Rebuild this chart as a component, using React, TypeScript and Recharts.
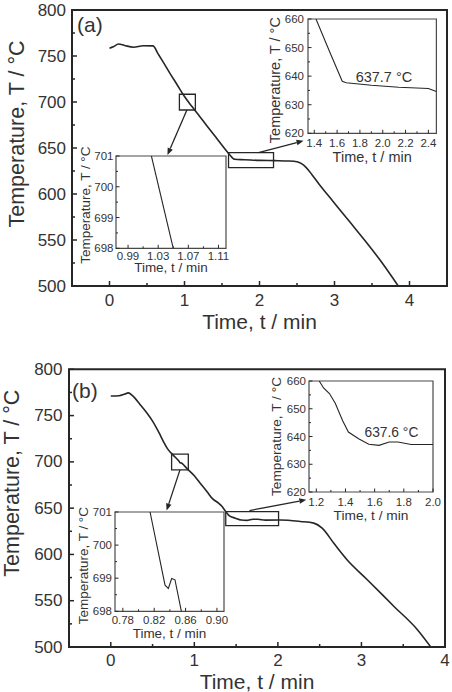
import React from 'react';
import {
  LineChart,
  Line,
  XAxis,
  YAxis,
  ReferenceArea,
  ReferenceLine,
  ReferenceDot
} from 'recharts';

const FONT = '"Liberation Sans", Arial, Helvetica, sans-serif';
const INK = '#262626';
const TEXT = '#333';

// ---- panel (a) ----
const timeA = [0, 0.05, 0.12, 0.2, 0.32, 0.45, 0.58, 0.65, 0.7, 0.8, 0.9, 1.0, 1.1, 1.2, 1.3, 1.4, 1.5, 1.6, 1.67, 1.8, 2.0, 2.2, 2.4, 2.5, 2.56, 2.62, 2.7, 2.8, 2.9, 3.0, 3.2, 3.4, 3.6, 3.85];
const tempA = [758.5, 760, 763, 761.5, 759.5, 761.2, 761, 752, 745.5, 732, 719, 706, 695, 684.5, 674, 663.5, 653, 643, 637.7, 637.3, 636.6, 636.3, 635.9, 635, 633, 629, 621, 610, 600, 590, 570, 550, 529, 500];

const plateauA = 637.7;
const zoomTimeA1 = [1.021, 1.05];
const zoomTempA1 = [701, 698];
const zoomTimeA2 = [1.415, 1.53, 1.645, 1.68, 1.9, 2.14, 2.4, 2.47];
const zoomTempA2 = [660, 649, 638.2, plateauA, 636.8, 636.1, 635.7, 634.6];

// ---- panel (b) ----
const timeB = [0, 0.1, 0.16, 0.21, 0.26, 0.35, 0.43, 0.5, 0.58, 0.63, 0.68, 0.75, 0.815, 0.834, 0.842, 0.856, 0.91, 1.0, 1.07, 1.15, 1.22, 1.29, 1.33, 1.38, 1.42, 1.49, 1.56, 1.63, 1.7, 1.76, 1.85, 2.03, 2.27, 2.43, 2.53, 2.67, 2.83, 3.07, 3.39, 3.67, 3.83];
const tempB = [771.2, 771.5, 773, 774.5, 771.5, 762, 753, 744, 731, 722, 714, 707, 701, 698.8, 699, 698, 693, 685, 677, 668, 660, 655.5, 652, 645.8, 641.6, 639.2, 637.2, 636.8, 638, 638, 637.1, 637.2, 635.6, 633.8, 628.4, 612, 594, 572.7, 543.8, 518.7, 500];

const plateauB = 637.6;
const zoomTimeB1 = [0.8147, 0.8338, 0.838, 0.8423, 0.8465, 0.8555];
const zoomTempB1 = [701, 698.79, 698.69, 698.99, 698.95, 697.9];
const zoomTimeB2 = [1.22, 1.25, 1.29, 1.33, 1.38, 1.42, 1.49, 1.56, 1.63, 1.7, 1.76, 1.85, 2.0];
const zoomTempB2 = [660, 657.5, 655.5, 652, 645.8, 641.6, 639.2, 637.2, 636.8, 638, 638, 637.1, 637.1];

// ---- ticks ----
const mainTimeTicks = [0, 0.5, 1, 1.5, 2, 2.5, 3, 3.5, 4];
const mainTimeMajor = [0, 1, 2, 3, 4];
const mainTempTicks = [500, 525, 550, 575, 600, 625, 650, 675, 700, 725, 750, 775, 800];
const mainTempMajor = [500, 550, 600, 650, 700, 750, 800];

const fineTempTicks = [698, 698.5, 699, 699.5, 700, 700.5, 701];
const fineTempMajor = [698, 699, 700, 701];
const plateauTempTicks = [620, 625, 630, 635, 640, 645, 650, 655, 660];
const plateauTempMajor = [620, 630, 640, 650, 660];

const fineTimeTicksA = [0.99, 1.01, 1.03, 1.05, 1.07, 1.09, 1.11];
const fineTimeMajorA = [0.99, 1.03, 1.07, 1.11];
const fineTimeTicksB = [0.78, 0.8, 0.82, 0.84, 0.86, 0.88, 0.9];
const fineTimeMajorB = [0.78, 0.82, 0.86, 0.9];
const plateauTimeTicksA = [1.4, 1.5, 1.6, 1.7, 1.8, 1.9, 2.0, 2.1, 2.2, 2.3, 2.4];
const plateauTimeMajorA = [1.4, 1.6, 1.8, 2.0, 2.2, 2.4];
const plateauTimeTicksB = [1.2, 1.3, 1.4, 1.5, 1.6, 1.7, 1.8, 1.9, 2.0];
const plateauTimeMajorB = [1.2, 1.4, 1.6, 1.8, 2.0];

const zip = (t: number[], v: number[]) => t.map((x, i) => ({ t: x, T: v[i] }));

const isIn = (list: number[], v: number) => list.some((m) => Math.abs(m - v) < 1e-6);

interface TickStyle {
  major: number[];
  len: number;
  minorLen: number;
  gap: number;
  size: number;
  digits: number;
  width: number;
}

// ticks point into the plot; minor ticks carry no label
function bottomTick(s: TickStyle) {
  return (p: any) => {
    const v = p.payload.value;
    const major = isIn(s.major, v);
    return (
      <g>
        <line x1={p.x} x2={p.x} y1={p.y} y2={p.y - (major ? s.len : s.minorLen)} stroke={INK} strokeWidth={s.width} />
        {major && (
          <text x={p.x} y={p.y + s.gap} textAnchor="middle" dominantBaseline="central" fontSize={s.size} fontFamily={FONT} fill={TEXT}>
            {v.toFixed(s.digits)}
          </text>
        )}
      </g>
    );
  };
}

function leftTick(s: TickStyle) {
  return (p: any) => {
    const v = p.payload.value;
    const major = isIn(s.major, v);
    return (
      <g>
        <line x1={p.x} x2={p.x + (major ? s.len : s.minorLen)} y1={p.y} y2={p.y} stroke={INK} strokeWidth={s.width} />
        {major && (
          <text x={p.x - s.gap} y={p.y} textAnchor="end" dominantBaseline="central" fontSize={s.size} fontFamily={FONT} fill={TEXT}>
            {v.toFixed(s.digits)}
          </text>
        )}
      </g>
    );
  };
}

const xTitle = (text: string, dy: number, size: number) => ({
  content: (p: any) => {
    const vb = p.viewBox;
    return (
      <text x={vb.x + vb.width / 2} y={vb.y + dy} textAnchor="middle" dominantBaseline="central" fontSize={size} fontFamily={FONT} fill={TEXT}>
        {text}
      </text>
    );
  }
});

const yTitle = (text: string, dx: number, dy: number, size: number) => ({
  content: (p: any) => {
    const vb = p.viewBox;
    const cx = vb.x + vb.width - dx;
    const cy = vb.y + vb.height / 2 + dy;
    return (
      <text x={cx} y={cy} transform={`rotate(-90 ${cx} ${cy})`} textAnchor="middle" dominantBaseline="central" fontSize={size} fontFamily={FONT} fill={TEXT}>
        {text}
      </text>
    );
  }
});

// line with a filled head at the second point
const arrowShape = (p: any) => {
  const { x1, y1, x2, y2 } = p;
  const a = Math.atan2(y2 - y1, x2 - x1);
  const L = 7;
  const W = 2.8;
  const bx = x2 - L * Math.cos(a);
  const by = y2 - L * Math.sin(a);
  const pts = `${x2},${y2} ${bx - W * Math.sin(a)},${by + W * Math.cos(a)} ${bx + W * Math.sin(a)},${by - W * Math.cos(a)}`;
  return (
    <g>
      <line x1={x1} y1={y1} x2={bx} y2={by} stroke={INK} strokeWidth={1.3} />
      <polygon points={pts} fill={INK} />
    </g>
  );
};

const mainX = (gap: number): TickStyle => ({ major: mainTimeMajor, len: 5, minorLen: 3, gap, size: 17, digits: 0, width: 1.5 });
const mainY = (gap: number): TickStyle => ({ major: mainTempMajor, len: 5, minorLen: 3, gap, size: 17, digits: 0, width: 1.5 });

interface InsetProps {
  box: [number, number, number, number];
  data: { t: number; T: number }[];
  xDomain: [number, number];
  yDomain: [number, number];
  xTicks: number[];
  xMajor: number[];
  xDigits: number;
  yTicks: number[];
  yMajor: number[];
  xLabelGap: number;
  yLabelGap: number;
  xTitleGap: number;
  yTitleGap: number;
  yTitleShift: number;
  titleSize: number;
  note?: { t: number; T: number; text: string; size: number };
}

function Inset(p: InsetProps) {
  const [l, t, r, b] = p.box;
  const padL = 48;
  const padT = 18;
  const padR = 8;
  const padB = 34;
  return (
    <div style={{ position: 'absolute', left: l - padL, top: t - padT }}>
      <LineChart
        width={r - l + padL + padR}
        height={b - t + padT + padB}
        data={p.data}
        margin={{ top: padT, right: padR, bottom: 0, left: 0 }}
      >
        <XAxis
          type="number"
          dataKey="t"
          domain={p.xDomain}
          ticks={p.xTicks}
          interval={0}
          allowDataOverflow
          axisLine={false}
          tickLine={false}
          tickSize={0}
          tickMargin={0}
          height={padB}
          tick={bottomTick({ major: p.xMajor, len: 3.5, minorLen: 2, gap: p.xLabelGap, size: 11.5, digits: p.xDigits, width: 1 })}
          label={xTitle('Time, t / min', p.xTitleGap, p.titleSize)}
        />
        <YAxis
          type="number"
          domain={p.yDomain}
          ticks={p.yTicks}
          interval={0}
          allowDataOverflow
          axisLine={false}
          tickLine={false}
          tickSize={0}
          tickMargin={0}
          width={padL}
          tick={leftTick({ major: p.yMajor, len: 3.5, minorLen: 2, gap: p.yLabelGap, size: 11.5, digits: 0, width: 1 })}
          label={yTitle('Temperature, T / °C', p.yTitleGap, p.yTitleShift, p.titleSize)}
        />
        <ReferenceArea x1={p.xDomain[0]} x2={p.xDomain[1]} y1={p.yDomain[0]} y2={p.yDomain[1]} fill="none" stroke="#4a4a4a" strokeWidth={1.2} />
        <Line type="linear" dataKey="T" stroke={INK} strokeWidth={1.1} dot={false} isAnimationActive={false} />
        {p.note && (
          <ReferenceDot
            x={p.note.t}
            y={p.note.T}
            r={0}
            fill="none"
            stroke="none"
            label={{
              content: (lp: any) => {
                const vb = lp.viewBox;
                return (
                  <text x={vb.x + vb.width / 2} y={vb.y + vb.height / 2} textAnchor="middle" dominantBaseline="central" fontSize={p.note!.size} fontFamily={FONT} fill={TEXT}>
                    {p.note!.text}
                  </text>
                );
              }
            }}
          />
        )}
      </LineChart>
    </div>
  );
}

const tagStyle = (left: number, top: number): React.CSSProperties => ({
  position: 'absolute',
  left,
  top,
  transform: 'translateY(-50%)',
  fontSize: 21,
  lineHeight: 1,
  color: TEXT,
  fontFamily: FONT
});

export default function App() {
  const seriesA = zip(timeA, tempA);
  const seriesB = zip(timeB, tempB);

  return (
    <div style={{ position: 'absolute', left: 0, top: 0, width: 452, height: 692, background: '#fff', overflow: 'hidden' }}>
      {/* panel (a) */}
      <div style={{ position: 'absolute', left: 0, top: 0 }}>
        <LineChart width={452} height={340} data={seriesA} margin={{ top: 10, right: 5, bottom: 0, left: 0 }}>
          <XAxis
            type="number"
            dataKey="t"
            domain={[-0.5, 4.5]}
            ticks={mainTimeTicks}
            interval={0}
            allowDataOverflow
            axisLine={false}
            tickLine={false}
            tickSize={0}
            tickMargin={0}
            height={54}
            tick={bottomTick(mainX(14.5))}
            label={xTitle('Time, t / min', 35, 21)}
          />
          <YAxis
            type="number"
            domain={[500, 800]}
            ticks={mainTempTicks}
            interval={0}
            allowDataOverflow
            axisLine={false}
            tickLine={false}
            tickSize={0}
            tickMargin={0}
            width={72}
            tick={leftTick(mainY(6))}
            label={yTitle('Temperature, T / °C', 55, -14, 21.5)}
          />
          <ReferenceArea x1={-0.5} x2={4.5} y1={500} y2={800} fill="none" stroke={INK} strokeWidth={2} />
          <ReferenceArea x1={0.932} x2={1.145} y1={691.3} y2={708.4} fill="none" stroke={INK} strokeWidth={1.3} />
          <ReferenceArea x1={1.587} x2={2.187} y1={628.6} y2={644.9} fill="none" stroke={INK} strokeWidth={1.3} />
          <ReferenceLine segment={[{ x: 1.032, y: 691.3 }, { x: 0.773, y: 642.4 }]} shape={arrowShape} />
          <ReferenceLine segment={[{ x: 1.987, y: 644.9 }, { x: 2.587, y: 657.9 }]} shape={arrowShape} />
          <Line type="monotone" dataKey="T" stroke={INK} strokeWidth={1.6} dot={false} isAnimationActive={false} />
        </LineChart>
      </div>
      <div style={tagStyle(77, 24)}>(a)</div>

      <Inset
        box={[115.5, 156, 225.5, 248.3]}
        data={zip(zoomTimeA1, zoomTempA1)}
        xDomain={[0.974, 1.12]}
        yDomain={[698, 701]}
        xTicks={fineTimeTicksA}
        xMajor={fineTimeMajorA}
        xDigits={2}
        yTicks={fineTempTicks}
        yMajor={fineTempMajor}
        xLabelGap={7.5}
        yLabelGap={2.5}
        xTitleGap={19.5}
        yTitleGap={30.5}
        yTitleShift={3}
        titleSize={13.5}
      />
      <Inset
        box={[308.3, 19, 436.7, 133.3]}
        data={zip(zoomTimeA2, zoomTempA2)}
        xDomain={[1.345, 2.47]}
        yDomain={[620, 660]}
        xTicks={plateauTimeTicksA}
        xMajor={plateauTimeMajorA}
        xDigits={1}
        yTicks={plateauTempTicks}
        yMajor={plateauTempMajor}
        xLabelGap={10}
        yLabelGap={4}
        xTitleGap={23.5}
        yTitleGap={33}
        yTitleShift={4}
        titleSize={14.5}
        note={{ t: 2.01, T: 639.8, text: `${plateauA} °C`, size: 14.5 }}
      />

      {/* panel (b) */}
      <div style={{ position: 'absolute', left: 0, top: 340 }}>
        <LineChart width={452} height={352} data={seriesB} margin={{ top: 29.3, right: 7, bottom: 0, left: 0 }}>
          <XAxis
            type="number"
            dataKey="t"
            domain={[-0.5, 4]}
            ticks={mainTimeTicks}
            interval={0}
            allowDataOverflow
            axisLine={false}
            tickLine={false}
            tickSize={0}
            tickMargin={0}
            height={45}
            tick={bottomTick(mainX(13.5))}
            label={xTitle('Time, t / min', 34, 21)}
          />
          <YAxis
            type="number"
            domain={[500, 800]}
            ticks={mainTempTicks}
            interval={0}
            allowDataOverflow
            axisLine={false}
            tickLine={false}
            tickSize={0}
            tickMargin={0}
            width={69}
            tick={leftTick(mainY(6.5))}
            label={yTitle('Temperature, T / °C', 56.5, -25, 21.5)}
          />
          <ReferenceArea x1={-0.5} x2={4} y1={500} y2={800} fill="none" stroke={INK} strokeWidth={2} />
          <ReferenceArea x1={0.728} x2={0.928} y1={691.3} y2={708.3} fill="none" stroke={INK} strokeWidth={1.3} />
          <ReferenceArea x1={1.376} x2={2.008} y1={631.2} y2={646.3} fill="none" stroke={INK} strokeWidth={1.3} />
          <ReferenceLine segment={[{ x: 0.828, y: 691.3 }, { x: 0.668, y: 647.4 }]} shape={arrowShape} />
          <ReferenceLine segment={[{ x: 1.66, y: 647.4 }, { x: 2.34, y: 659 }]} shape={arrowShape} />
          <Line type="monotone" dataKey="T" stroke={INK} strokeWidth={1.6} dot={false} isAnimationActive={false} />
        </LineChart>
      </div>
      <div style={tagStyle(72, 390)}>(b)</div>

      <Inset
        box={[115, 511.7, 224, 611]}
        data={zip(zoomTimeB1, zoomTempB1)}
        xDomain={[0.77, 0.909]}
        yDomain={[698, 701]}
        xTicks={fineTimeTicksB}
        xMajor={fineTimeMajorB}
        xDigits={2}
        yTicks={fineTempTicks}
        yMajor={fineTempMajor}
        xLabelGap={9}
        yLabelGap={3}
        xTitleGap={22}
        yTitleGap={31}
        yTitleShift={4}
        titleSize={13.5}
      />
      <Inset
        box={[309.3, 380.7, 433.3, 491.7]}
        data={zip(zoomTimeB2, zoomTempB2)}
        xDomain={[1.15, 2.0]}
        yDomain={[620, 660]}
        xTicks={plateauTimeTicksB}
        xMajor={plateauTimeMajorB}
        xDigits={1}
        yTicks={plateauTempTicks}
        yMajor={plateauTempMajor}
        xLabelGap={10}
        yLabelGap={3}
        xTitleGap={23.3}
        yTitleGap={33}
        yTitleShift={0}
        titleSize={13.7}
        note={{ t: 1.715, T: 641.6, text: `${plateauB} °C`, size: 13.8 }}
      />
    </div>
  );
}
